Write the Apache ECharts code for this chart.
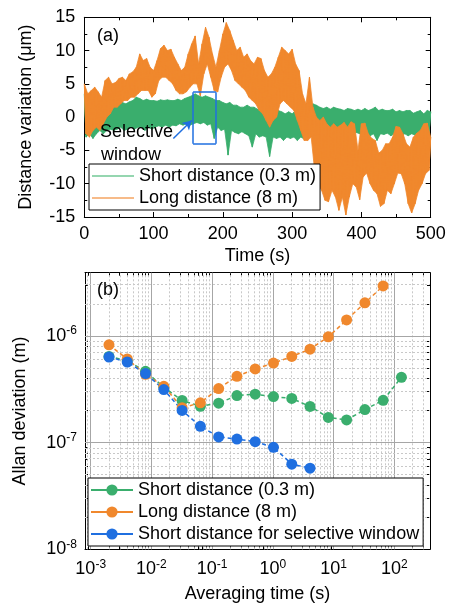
<!DOCTYPE html>
<html><head><meta charset="utf-8">
<script src="https://cdn.jsdelivr.net/npm/echarts@6/dist/echarts.min.js"></script>
<style>html,body{margin:0;padding:0;background:#fff}#c{width:449px;height:612px}</style>
</head><body><div id="c"></div>
<script>
const FONT = '"Liberation Sans", Arial, Helvetica, sans-serif';
const GREEN = '#3aae6d', ORANGE = '#f0882d', BLUE = '#1f6fe0';

// ---------- Panel (a): envelope readings of the noisy traces ----------
// upper readings at t = 0,5,...,500 s ; lower readings at t = 2.5,7.5,...,497.5 s
const sampleStep = 5;
const orangeHigh = [5.0,3.5,4.0,4.5,3.8,3.0,5.5,6.0,5.0,5.2,5.8,6.0,5.5,6.5,6.8,7.5,9.5,8.5,8.8,7.5,
  7.0,8.5,10.3,10.8,10.0,10.2,9.0,8.0,7.0,7.5,9.5,11.0,12.2,8.0,11.0,13.5,12.0,9.5,7.5,10.0,
  12.5,14.2,13.0,11.5,10.0,10.5,9.0,9.5,8.5,8.0,9.0,8.8,7.0,6.0,6.5,7.5,9.0,10.5,10.0,9.5,
  10.2,8.0,7.0,3.5,2.0,6.0,1.5,0.0,-0.5,0.0,-1.0,-1.5,-1.0,-1.5,-1.2,-0.8,-1.5,-0.7,-1.0,-5.0,
  -1.0,-0.9,-2.5,-3.2,-3.5,-5.4,-5.0,-4.0,-4.0,-3.0,-1.4,-1.5,-2.5,-4.0,-4.5,-3.0,-2.4,-2.0,-1.0,-0.9,-3.0];
const orangeLow = [-2.5,-3.0,-2.0,-1.5,-2.0,-1.0,0.0,0.5,1.5,1.5,2.0,2.5,2.5,3.0,3.0,3.5,4.0,4.0,4.0,3.0,
  3.5,5.5,6.0,6.0,5.5,5.0,4.0,3.5,3.5,3.8,4.5,5.0,5.0,3.2,6.5,8.0,6.0,4.0,3.8,6.0,
  7.5,8.0,7.0,5.5,5.0,4.5,4.0,3.0,2.5,2.0,1.0,0.5,-0.5,-1.5,-0.5,0.0,2.0,2.5,2.0,1.5,
  1.0,-0.5,-2.0,-3.5,-3.5,-3.0,-8.0,-10.0,-11.0,-12.5,-12.7,-11.0,-12.0,-14.0,-12.0,-14.7,-12.0,-10.0,-10.5,-12.4,
  -9.0,-8.4,-10.0,-11.0,-11.5,-13.4,-13.0,-11.0,-11.5,-10.0,-8.4,-8.5,-10.0,-13.0,-14.4,-13.0,-11.0,-10.0,-8.5,-8.0];
const greenHigh = [3.5,3.0,3.2,2.5,2.8,2.0,1.5,1.5,1.8,1.5,2.0,2.2,2.0,2.3,2.5,3.0,2.8,2.5,2.7,2.5,
  2.5,2.4,2.6,2.5,2.6,2.5,2.5,2.7,2.5,2.8,3.0,3.2,3.5,3.2,3.0,3.2,3.0,2.8,2.5,2.5,
  2.2,2.0,2.2,1.8,1.8,1.5,1.5,1.8,1.5,1.5,1.2,1.5,1.0,1.2,1.0,0.8,1.0,0.8,0.5,0.8,
  0.5,1.0,0.8,1.0,1.2,1.5,2.0,1.8,1.5,1.3,1.5,1.2,1.5,1.3,1.2,1.0,1.3,1.2,1.0,1.2,
  1.0,1.3,1.0,1.2,1.5,1.0,1.2,1.0,1.0,1.2,0.8,1.0,0.8,1.0,1.0,0.6,0.8,1.0,0.5,1.0,0.8];
const greenLow = [-3.0,-2.5,-3.2,-2.5,-2.0,-2.5,-2.0,-1.8,-2.0,-1.8,-1.5,-2.0,-1.8,-1.5,-1.8,-1.5,-1.5,-2.0,-1.5,-1.8,
  -1.5,-1.3,-1.5,-1.2,-1.5,-1.2,-1.3,-1.0,-1.2,-1.0,-1.2,-1.0,-0.8,-1.0,-0.8,-1.2,-1.0,-3.2,-1.5,-2.0,
  -1.8,-5.7,-2.0,-2.3,-2.5,-2.2,-2.5,-2.8,-4.5,-2.5,-3.0,-2.8,-3.0,-5.9,-3.0,-3.2,-3.0,-3.5,-3.0,-3.2,
  -3.0,-3.5,-3.0,-3.3,-3.0,-2.5,-2.0,-2.2,-2.5,-2.0,-2.3,-2.5,-2.2,-2.0,-2.5,-2.2,-3.2,-2.5,-2.3,-2.5,
  -3.0,-2.5,-2.8,-2.5,-3.5,-2.5,-2.6,-2.4,-2.8,-2.5,-2.6,-3.0,-2.5,-2.8,-2.5,-2.7,-2.5,-2.8,-2.5,-2.6];
const windowBox = [157, 190, -4, 3.75];       // t0, t1, v0, v1
const arrowLine = [[128.5, -3.2], [155, -0.5]];

// ---------- Panel (b): Allan deviation ----------
const tau = [0.002,0.004,0.008,0.016,0.032,0.064,0.128,0.256,0.512,1.024,2.048,4.096,8.192,16.384,32.768,65.536,131.072];
const adevShort = [6.41e-7,5.85e-7,4.65e-7,3.30e-7,2.48e-7,2.19e-7,2.34e-7,2.76e-7,2.84e-7,2.70e-7,2.59e-7,2.18e-7,1.72e-7,1.63e-7,2.04e-7,2.49e-7,4.09e-7];
const adevLong = [8.24e-7,6.07e-7,4.36e-7,3.37e-7,2.12e-7,2.36e-7,3.21e-7,4.18e-7,4.90e-7,5.56e-7,6.41e-7,7.51e-7,9.79e-7,1.41e-6,2.04e-6,2.94e-6];
const adevWindow = [6.33e-7,5.69e-7,4.43e-7,3.14e-7,2.00e-7,1.42e-7,1.13e-7,1.08e-7,1.02e-7,9.04e-8,6.28e-8,5.76e-8];
const xDecades = [-3,-2,-1,0,1,2];
const yDecades = [-8,-7,-6];

const LABELS = {
  aShort: 'Short distance (0.3 m)', aLong: 'Long distance (8 m)',
  bShort: 'Short distance (0.3 m)', bLong: 'Long distance (8 m)', bWin: 'Short distance for selective window'
};

function trace(high, low) {
  const out = [];
  for (let i = 0; i < high.length; i++) {
    out.push([i * sampleStep, high[i]]);
    if (i < low.length) out.push([i * sampleStep + sampleStep / 2, low[i]]);
  }
  return out;
}
function bandSeries(high, low, color, z) {
  return { type: 'custom', xAxisIndex: 0, yAxisIndex: 0, z: z, silent: true, data: [0], clip: true,
    renderItem: function (params, api) {
      const pts = [];
      high.forEach((v, i) => pts.push(api.coord([i * sampleStep, v])));
      for (let i = low.length - 1; i >= 0; i--) pts.push(api.coord([i * sampleStep + sampleStep / 2, low[i]]));
      return { type: 'polygon', shape: { points: pts }, style: { fill: color, stroke: color, lineWidth: 0.8 } };
    } };
}
function logPairs(xs, ys) { return ys.map((y, i) => [Math.log10(xs[i]), Math.log10(y)]); }

const XMIN = -3.094, XMAX = 2.588, YMIN = -8, YMAX = -5.408;
function minorLogs(lo, hi) {
  const r = [];
  for (let n = -9; n <= 3; n++) for (let k = 2; k <= 9; k++) {
    const v = n + Math.log10(k);
    if (v > lo && v < hi) r.push(v);
  }
  return r;
}
const xMinor = minorLogs(XMIN, XMAX), yMinor = minorLogs(YMIN, YMAX);

const black = { color: '#000', width: 1 };
const supFmt = v => '{b|10}{s|' + Math.round(v) + '}';
const rich = { b: { fontSize: 18, fontFamily: FONT, color: '#000', lineHeight: 22 },
               s: { fontSize: 12, fontFamily: FONT, color: '#000', lineHeight: 12, verticalAlign: 'top' } };

function linAxisX(pos, show) {
  return { gridIndex: 0, type: 'value', position: pos, min: 0, max: 500, interval: 100,
    axisLine: { show: true, onZero: false, lineStyle: black },
    axisTick: { show: true, inside: true, length: 5, lineStyle: black },
    minorTick: { show: true, splitNumber: 2, length: 3, lineStyle: black },
    axisLabel: { show: show, fontSize: 18, fontFamily: FONT, color: '#000', margin: 8 },
    splitLine: { show: false },
    name: show ? 'Time (s)' : '', nameLocation: 'middle', nameGap: 30,
    nameTextStyle: { fontSize: 18, fontFamily: FONT, color: '#000' } };
}
function linAxisY(pos, show) {
  return { gridIndex: 0, type: 'value', position: pos, min: -15, max: 15, interval: 5,
    axisLine: { show: true, onZero: false, lineStyle: black },
    axisTick: { show: true, inside: true, length: 5, lineStyle: black },
    minorTick: { show: true, splitNumber: 2, length: 3, lineStyle: black },
    axisLabel: { show: show, fontSize: 18, fontFamily: FONT, color: '#000', margin: 9 },
    splitLine: { show: false },
    name: show ? 'Distance variation (\u03bcm)' : '', nameLocation: 'middle', nameGap: 49, nameRotate: 90,
    nameTextStyle: { fontSize: 18, fontFamily: FONT, color: '#000' } };
}
function logAxis(kind, pos, ticks, len, labels, line, name, gap) {
  const a = { gridIndex: 1, type: 'value', position: pos,
    min: kind === 'x' ? XMIN : YMIN, max: kind === 'x' ? XMAX : YMAX,
    axisLine: { show: line, onZero: false, lineStyle: black },
    axisTick: { show: true, inside: true, length: len, lineStyle: black, customValues: ticks },
    axisLabel: { show: !!labels, customValues: labels || [], formatter: supFmt, rich: rich,
                 margin: kind === 'x' ? 9 : 8, showMinLabel: true, showMaxLabel: true },
    splitLine: { show: false } };
  if (name) { a.name = name; a.nameLocation = 'middle'; a.nameGap = gap;
    a.nameTextStyle = { fontSize: 18, fontFamily: FONT, color: '#000' };
    if (kind === 'y') a.nameRotate = 90; }
  return a;
}

const gridLines = [];
xDecades.forEach(v => gridLines.push({ xAxis: v, lineStyle: { color: '#a6a6a6', width: 1, type: 'solid' } }));
xMinor.forEach(v => gridLines.push({ xAxis: v, lineStyle: { color: '#c8c8c8', width: 1, type: [2, 2] } }));
yDecades.slice(1).forEach(v => gridLines.push({ yAxis: v, lineStyle: { color: '#a6a6a6', width: 1, type: 'solid' } }));
yMinor.forEach(v => gridLines.push({ yAxis: v, lineStyle: { color: '#c8c8c8', width: 1, type: [2, 2] } }));

const [t0, t1, v0, v1] = windowBox;
const boxEdges = [
  [[t0, v0], [t1, v0]], [[t1, v0], [t1, v1]], [[t1, v1], [t0, v1]], [[t0, v1], [t0, v0]]
].map(p => [{ coord: p[0], symbol: 'none' }, { coord: p[1], symbol: 'none' }]);
const arrow = [{ coord: arrowLine[0], symbol: 'none' }, { coord: arrowLine[1], symbol: 'arrow', symbolSize: [8, 9] }];

const markerStyle = (c) => ({
  type: 'line', xAxisIndex: 2, yAxisIndex: 2, symbol: 'circle', symbolSize: 11, showSymbol: true,
  itemStyle: { color: c }, lineStyle: { color: c, width: 1.5, type: [4, 3] }, z: 3
});

const legendCommon = {
  orient: 'vertical', itemWidth: 42, itemHeight: 14, itemGap: 4, z: 20,
  backgroundColor: '#fff', borderColor: '#000', borderWidth: 1, borderRadius: 0,
  textStyle: { fontSize: 18, fontFamily: FONT, color: '#000' },
  formatter: n => LABELS[n], selectedMode: false, lineStyle: { type: 'solid' }
};
const LINE_ICON = 'path://M0,0H42V1.4H0Z';

const option = {
  animation: false,
  backgroundColor: '#fff',
  grid: [
    { left: 84.3, top: 17.3, width: 346.4, height: 199.7 },
    { left: 85, top: 272.7, width: 345, height: 276.6 }
  ],
  xAxis: [
    linAxisX('bottom', true), linAxisX('top', false),
    logAxis('x', 'bottom', xDecades, 5, xDecades, true, 'Averaging time (s)', 36),
    logAxis('x', 'bottom', xMinor, 3, null, false),
    logAxis('x', 'top', xDecades, 5, null, true),
    logAxis('x', 'top', xMinor, 3, null, false)
  ],
  yAxis: [
    linAxisY('left', true), linAxisY('right', false),
    logAxis('y', 'left', yDecades, 5, yDecades, true, 'Allan deviation (m)', 56),
    logAxis('y', 'left', yMinor, 3, null, false),
    logAxis('y', 'right', yDecades, 5, null, true),
    logAxis('y', 'right', yMinor, 3, null, false)
  ],
  legend: [
    Object.assign({}, legendCommon, {
      data: [{ name: 'aShort', icon: LINE_ICON, itemStyle: { color: '#72c896' } },
             { name: 'aLong', icon: LINE_ICON, itemStyle: { color: '#f4a462' } }],
      left: 89, top: 164, padding: [3, 4, 3, 3] }),
    Object.assign({}, legendCommon, { data: ['bShort', 'bLong', 'bWin'], left: 88, top: 478, padding: [3, 4, 3, 2] })
  ],
  graphic: [
    { type: 'text', left: 97, top: 27, z: 10, style: { text: '(a)', font: '18px ' + FONT, fill: '#000' } },
    { type: 'text', left: 97, top: 281, z: 10, style: { text: '(b)', font: '18px ' + FONT, fill: '#000' } },
    { type: 'text', left: 100, top: 123, z: 10, style: { text: 'Selective', font: '18px ' + FONT, fill: '#000' } },
    { type: 'text', left: 101, top: 146, z: 10, style: { text: 'window', font: '18px ' + FONT, fill: '#000' } }
  ],
  series: [
    bandSeries(greenHigh, greenLow, GREEN, 2),
    { name: 'aShort', type: 'line', xAxisIndex: 0, yAxisIndex: 0, data: trace(greenHigh, greenLow),
      symbol: 'none', showSymbol: false, lineStyle: { color: GREEN, width: 1 }, itemStyle: { color: GREEN }, z: 2 },
    bandSeries(orangeHigh, orangeLow, ORANGE, 3),
    { name: 'aLong', type: 'line', xAxisIndex: 0, yAxisIndex: 0, data: trace(orangeHigh, orangeLow),
      symbol: 'none', showSymbol: false, lineStyle: { color: ORANGE, width: 1 }, itemStyle: { color: ORANGE }, z: 3,
      markLine: { silent: true, animation: false, symbol: ['none', 'none'], label: { show: false },
        lineStyle: { color: BLUE, width: 1.5, type: 'solid' }, emphasis: { disabled: true },
        data: boxEdges.concat([arrow]) } },
    { name: 'gridlines', type: 'line', xAxisIndex: 2, yAxisIndex: 2, data: [], z: 1,
      markLine: { silent: true, animation: false, z: 1, symbol: ['none', 'none'], label: { show: false },
        emphasis: { disabled: true }, data: gridLines } },
    Object.assign({ name: 'bShort', data: logPairs(tau, adevShort) }, markerStyle(GREEN)),
    Object.assign({ name: 'bLong', data: logPairs(tau, adevLong) }, markerStyle(ORANGE)),
    Object.assign({ name: 'bWin', data: logPairs(tau, adevWindow) }, markerStyle(BLUE))
  ]
};
const chart = echarts.init(document.getElementById('c'), null, { renderer: 'canvas' });
chart.setOption(option);
</script></body></html>
